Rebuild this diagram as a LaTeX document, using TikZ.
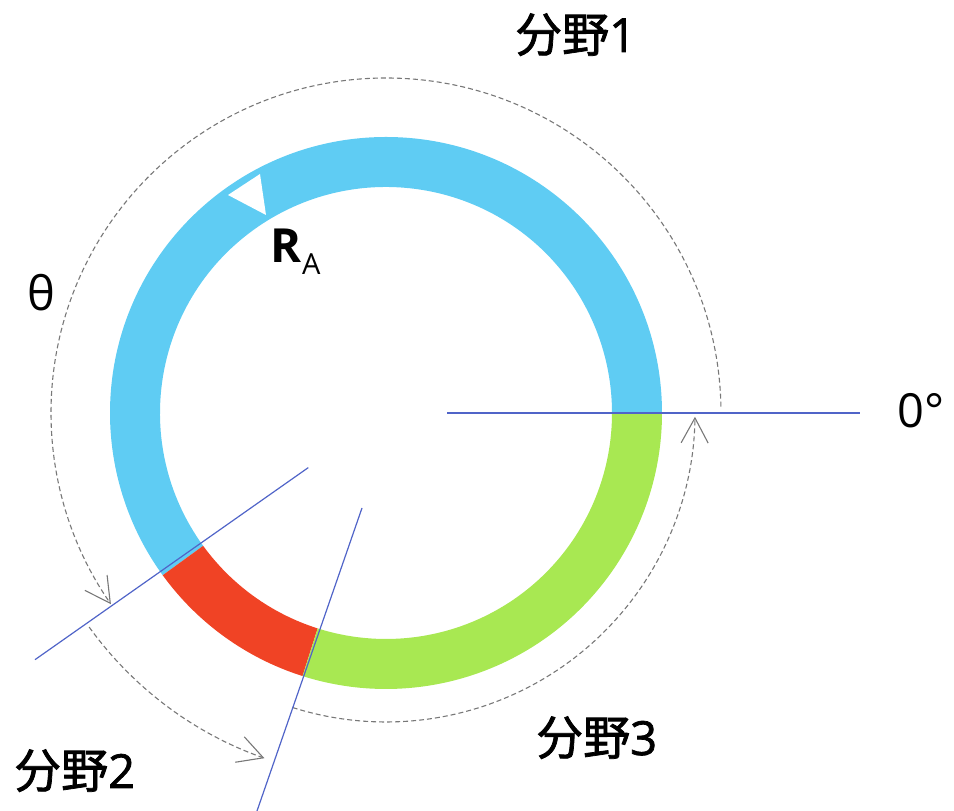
\documentclass[tikz,border=0pt]{standalone}
\usepackage{fontspec}
\setmainfont{Open Sans}
\newfontfamily\cjk[FakeBold=1.6]{Noto Sans CJK SC}
\newfontfamily\digitfont[FakeBold=1.6]{Open Sans}
\usetikzlibrary{arrows.meta}
\definecolor{ringblue}{RGB}{95,204,243}
\definecolor{ringred}{RGB}{240,67,37}
\definecolor{ringgreen}{RGB}{168,232,82}
\definecolor{axisblue}{RGB}{80,100,200}
\definecolor{dashgray}{RGB}{120,120,120}
\tikzset{
  axisline/.style={draw=axisblue, line width=1.2pt},
  dimarc/.style={draw=dashgray, line width=1.1pt, dash pattern=on 5pt off 3pt,
    -{Straight Barb[length=25pt,width=27pt,line width=1.1pt]}},
  biglabel/.style={anchor=base west, inner sep=0pt, font=\fontsize{47}{50}\selectfont},
}
\begin{document}
\begin{tikzpicture}[x=1pt,y=1pt]
\useasboundingbox (0,0) rectangle (954,811);
\coordinate (O) at (386,398);
\begin{scope}[shift={(O)}]
  % dashed dimension arcs
  \draw[dimarc] (1.1:335) arc[start angle=1.1,end angle=214.8,radius=335];
  \draw[dimarc] (215.8:366) arc[start angle=215.8,end angle=250.6,radius=366];
  \draw[dimarc] (252.4:309) arc[start angle=252.4,end angle=359.3,radius=309];
  % ring sectors
  \fill[ringblue] (0:276) arc[start angle=0,end angle=216,radius=276]
     -- (216:226) arc[start angle=216,end angle=0,radius=226] -- cycle;
  \fill[ringred] (216:276) arc[start angle=216,end angle=252.4,radius=276]
     -- (252.4:226) arc[start angle=252.4,end angle=216,radius=226] -- cycle;
  \fill[ringgreen] (252.4:276) arc[start angle=252.4,end angle=360,radius=276]
     -- (360:226) arc[start angle=360,end angle=252.4,radius=226] -- cycle;
  % white marker triangle
  \fill[white] (-158,218) -- (-126,239) -- (-120,198) -- cycle;
  % radial lines
  \coordinate (l1a) at (215.1:95);
  \coordinate (l1b) at (215.1:429);
  \coordinate (l0a) at (61,0);
  \coordinate (l0b) at (474,0);
\end{scope}
\coordinate (l2a) at (362,303);
\coordinate (l2b) at (257,0);
\draw[axisline] (l1a) -- (l1b);
\draw[axisline] (l2a) -- (l2b);
\draw[axisline] (l0a) -- (l0b);
% labels
\node[biglabel] (f1) at (515,759) {{\cjk 分野}{\digitfont 1}};
\node[biglabel] (f2) at (14,23) {{\cjk 分野}{\digitfont 2}};
\node[biglabel] (f3) at (536,56) {{\cjk 分野}{\digitfont 3}};
\node[biglabel] (zero) at (897,383) {0°};
\node[biglabel] (theta) at (27,500) {θ};
\node[biglabel] (ra) at (270,548) {\textbf{R}\kern1pt\raisebox{-12pt}{\fontsize{29}{31}\selectfont A}};
\end{tikzpicture}
\end{document}
